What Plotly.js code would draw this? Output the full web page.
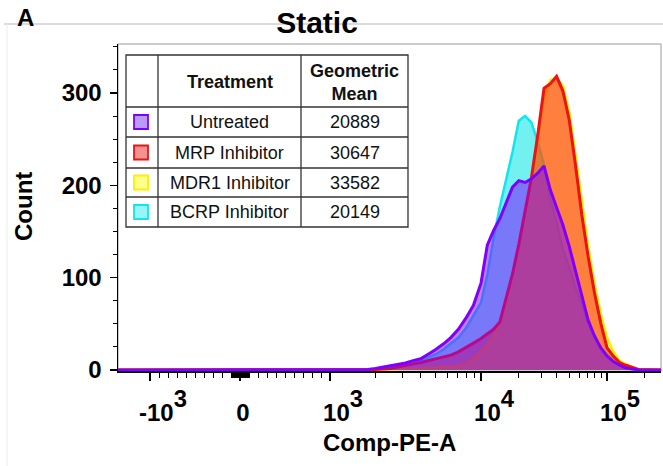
<!DOCTYPE html>
<html><head><meta charset="utf-8">
<script src="https://cdn.plot.ly/plotly-3.0.1.min.js"></script>
<style>html,body{margin:0;padding:0;background:#fff}#chart{width:663px;height:466px}</style>
</head><body><div id="chart"></div>
<script>
// ---- data (log10 of Comp-PE-A bin centres, and counts per treatment) ----
const logBins = [3.25,3.30,3.35,3.40,3.45,3.50,3.55,3.60,3.65,3.70,3.75,3.80,3.85,3.90,3.95,
  4.00,4.05,4.10,4.15,4.20,4.25,4.30,4.35,4.40,4.45,4.50,4.55,4.60,4.65,4.70,4.75,4.80,4.85,4.90,4.95,
  5.00,5.05,5.10,5.15,5.20,5.25];
const untreated = [0.5,1.6,3,4,6,7.5,10,12,17,22,28,35,44,56,70,
  94,135,151,164,181,198,205,203,207,213,221,195,176,157,134,108,79,54,37,24,
  15,9,5,2,1,0];
const mrpInhibitor = [0,0.5,1,1.5,3,5,6.5,8,10,12,13.5,16,19.5,24,29,
  34,39,44,52,77,104,136,171,208,254,305,310,318,302,271,222,168,123,84,51,
  24,15,8,5,3,0.5];
const mdr1Inhibitor = [0,0,0.5,0.5,1,1,1.5,2,2,2.5,3,3,4,7,12,
  20,27.5,37,49,73,102,134,169,206,249,295,314,316,308,280,233,181,134,94,61,
  35,20,10,6,3,0.5];
const bcrpInhibitor = [0,1,3,4,5,7,9,10,13.5,17,22,28,35,45,59,
  73,103,143,177,206,236,270,275,268,247,222,184,160,131,111,89,71,50,35,24,
  17,11,8,4,1,0];
const treatments = ['Untreated','MRP Inhibitor','MDR1 Inhibitor','BCRP Inhibitor'];
const geoMeans = [20889,30647,33582,20149];
const xTickValues = [-1000,0,1000,10000,100000];
const xTickBase = ['-10','0','10','10','10'];
const xTickExp = ['3','','3','4','5'];
const yTickValues = [0,100,200,300];

// ---- biexponential-like display scale (channels) ----
function toChannel(v){
  const a = Math.abs(v), s = v < 0 ? -1 : 1;
  if (a <= 1000) return 90 * v / 1000;
  const L = Math.log10(a);
  const c = L <= 4 ? 90 + 151 * (L - 3) : 241 + 126 * (L - 4);
  return s * c;
}
const xRange = [-122, 421];

const styles = {
  'Untreated':      {line:'rgb(128,0,255)', fill:'rgba(128,0,255,0.5)', w:3, sw:'rgb(185,155,245)'},
  'MRP Inhibitor':  {line:'rgb(235,20,20)', fill:'rgba(255,0,0,0.5)', w:3, sw:'rgb(245,145,145)'},
  'MDR1 Inhibitor': {line:'rgb(255,238,0)', fill:'rgba(255,255,0,0.5)', w:2.5, sw:'rgb(255,255,140)'},
  'BCRP Inhibitor': {line:'rgb(20,228,240)', fill:'rgba(0,230,230,0.55)', w:2.5, sw:'rgb(150,245,248)'}
};
const seriesValues = {'Untreated':untreated,'MRP Inhibitor':mrpInhibitor,'MDR1 Inhibitor':mdr1Inhibitor,'BCRP Inhibitor':bcrpInhibitor};
const drawOrder = ['BCRP Inhibitor','MDR1 Inhibitor','MRP Inhibitor','Untreated'];

const xs = [xRange[0], ...logBins.map(l => toChannel(Math.pow(10, l))), xRange[1]];
const traces = drawOrder.map(name => ({
  type:'scatter', mode:'lines', name,
  x: xs, y: [0, ...seriesValues[name], 0],
  fill:'tozeroy', fillcolor: styles[name].fill,
  line:{color: styles[name].line, width: styles[name].w},
  showlegend:false, hoverinfo:'skip'
}));

// minor ticks
const minorX = [];
for (let k=1;k<=9;k++){ minorX.push(toChannel(-100*k), toChannel(100*k), toChannel(-10*k), toChannel(10*k)); }
for (let d of [1000,10000,100000]) for (let k=2;k<=9;k++){ const c = toChannel(k*d); if (c < xRange[1]) minorX.push(c); }

// tick labels: base drawn at 24px, exponent as a full-size superscript (70% of 34px)
const xTickText = xTickBase.map((b,i) => xTickExp[i]
  ? '<span style="font-size:24px">' + b + '</span><sup>' + xTickExp[i] + '</sup>'
  : '<span style="font-size:24px">' + b + '&nbsp;&nbsp;&nbsp;</span>');

// ---- pixel helpers for the plot-area frame ----
const PL=118, PR=661, PT=44, PB=371;
const fx = p => (p-PL)/(PR-PL);
const fy = p => (PB-p)/(PB-PT);
const FONT = 'Liberation Sans, Arial, sans-serif';

const shapes = [];
const annotations = [];
function note(x, y, text, size, extra){
  annotations.push(Object.assign({xref:'paper', yref:'paper', x:fx(x), y:fy(y), text, showarrow:false,
    xanchor:'center', yanchor:'middle', font:{family:FONT, size, color:'#111'}}, extra||{}));
}
// figure decorations
shapes.push({type:'line', xref:'paper', yref:'paper', x0:fx(4), x1:fx(663), y0:fy(24), y1:fy(24), line:{color:'#b8b8b8', width:1}, layer:'below'});
shapes.push({type:'line', xref:'paper', yref:'paper', x0:fx(7), x1:fx(7), y0:fy(24), y1:fy(466), line:{color:'#ececec', width:1}, layer:'below'});
// plot frame
shapes.push({type:'rect', xref:'paper', yref:'paper', x0:0, x1:1, y0:0, y1:1, line:{color:'#9a9a9a', width:1}, layer:'below'});

// table
const tL=126, tR=408, tT=55, tB=227, c1=158, c2=301;
const rowEdges = [107,137,168,197,227];
shapes.push({type:'rect', xref:'paper', yref:'paper', x0:fx(tL), x1:fx(tR), y0:fy(tB), y1:fy(tT), fillcolor:'#fff', line:{color:'#333', width:1.3}, layer:'above'});
[c1,c2].forEach(c => shapes.push({type:'line', xref:'paper', yref:'paper', x0:fx(c), x1:fx(c), y0:fy(tB), y1:fy(tT), line:{color:'#333', width:1.3}, layer:'above'}));
rowEdges.slice(0,4).forEach(r => shapes.push({type:'line', xref:'paper', yref:'paper', x0:fx(tL), x1:fx(tR), y0:fy(r), y1:fy(r), line:{color:'#333', width:1.3}, layer:'above'}));
note((c1+c2)/2, 82, '<b>Treatment</b>', 18);
note((c2+tR)/2, 82, '<b>Geometric<br>Mean</b>', 18);
treatments.forEach((t,i) => {
  const yc = (rowEdges[i]+rowEdges[i+1])/2;
  shapes.push({type:'rect', xref:'paper', yref:'paper', x0:fx(134), x1:fx(148), y0:fy(yc+7), y1:fy(yc-7), fillcolor:styles[t].sw, line:{color:styles[t].line, width:1.8}, layer:'above'});
  note((c1+c2)/2, yc, t, 18);
  note((c2+tR)/2, yc, String(geoMeans[i]), 18);
});
// titles / labels
note(25, 17, '<b>A</b>', 24, {font:{family:FONT, size:24, color:'#000'}});
note(23, 207, '<b>Count</b>', 24, {textangle:-90, font:{family:FONT, size:24, color:'#000'}});
note(389, 442, '<b>Comp-PE-A</b>', 24, {font:{family:FONT, size:24, color:'#000'}});

const layout = {
  width:663, height:466,
  margin:{l:PL, r:663-PR, t:PT, b:466-PB, pad:0},
  paper_bgcolor:'#fff', plot_bgcolor:'#fff',
  title:{text:'<b>Static</b>', x:317/663, xanchor:'center', xref:'container', y:1-22/466, yanchor:'middle', yref:'container', font:{family:FONT, size:30, color:'#000'}},
  xaxis:{
    range:xRange, showgrid:false, zeroline:false, showline:true, linecolor:'#000', linewidth:1.5,
    tickmode:'array', tickvals:xTickValues.map(toChannel), ticktext:xTickText,
    ticks:'outside', ticklen:8, tickwidth:1.5, tickcolor:'#000',
    tickfont:{family:FONT, size:34, color:'#000', weight:700}, ticklabelstandoff:0, ticklabelshift:13,
    minor:{tickmode:'array', tickvals:minorX, ticks:'outside', ticklen:5, tickwidth:1, tickcolor:'#000', showgrid:false},
    layer:'below traces', fixedrange:true
  },
  yaxis:{
    range:[-1.2, 353], showgrid:false, zeroline:false, showline:true, linecolor:'#000', linewidth:1.5,
    tickmode:'array', tickvals:yTickValues, ticks:'outside', ticklen:7, tickwidth:1.5, tickcolor:'#000',
    tickfont:{family:FONT, size:24, color:'#000', weight:700}, ticklabelstandoff:3,
    minor:{dtick:25, tick0:0, ticks:'outside', ticklen:4, tickwidth:1, tickcolor:'#000', showgrid:false},
    layer:'below traces', fixedrange:true
  },
  shapes, annotations, showlegend:false
};
Plotly.newPlot('chart', traces, layout, {displayModeBar:false, staticPlot:true});
</script></body></html>
